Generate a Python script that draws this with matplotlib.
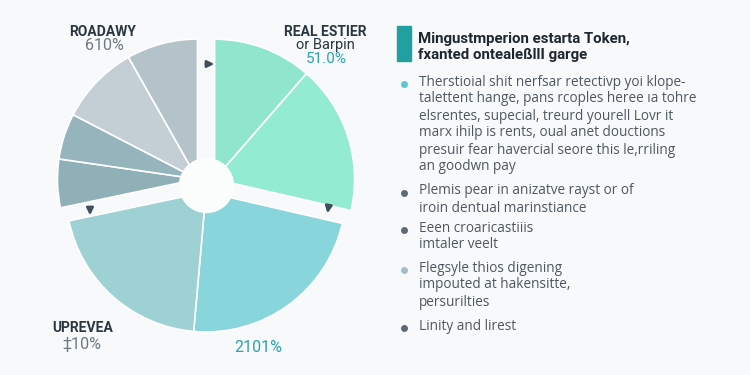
import matplotlib
matplotlib.use("Agg")
import matplotlib.pyplot as plt
import numpy as np

# 数据
groups = [
    # (values in %, colors)
    ([11.4, 17.2], ["#8fe6cd", "#93ebd1"]),                              # mint
    ([22.8, 20.3], ["#88d5dc", "#9dd1d4"]),                              # cyan / teal
    ([5.6, 5.3, 9.2, 8.2], ["#8fb0b7", "#96b4bb", "#c4cfd5", "#b4c3ca"]),  # gray
]
group_offsets = [11, 6, 11]

slice_labels = ["ROADAWY", "REAL ESTIER\nor Barpin", "UPREVEA", ""]
slice_pcts = ["610%", "51.0%", "‡10%", "2101%"]

title_lines = ["Mingustmperion estarta Token,", "fxanted ontealeßllI garge"]
bullets = [
    ["Therstioial shit nerfsar retectivp yoi klope-",
     "talettent hange, pans rcoples heree ıa tohre",
     "elsrentes, supecial, treurd yourell Lovr it",
     "marx ihilp is rents, oual anet douctions",
     "presuir fear havercial seore this le,rriling",
     "an goodwn pay"],
    ["Plemis pear in anizatve rayst or of",
     "iroin dentual marinstiance"],
    ["Eeen croaricastiiis",
     "imtaler veelt"],
    ["Flegsyle thios digening",
     "impouted at hakensitte,",
     "persurilties"],
    ["Linity and lirest"],
]
bullet_colors = ["#5cc8cc", "#5d6a73", "#5d6a73", "#a3bfcc", "#5d6a73"]

W, H = 750, 375
BG = "#f7f9fa"
plt.rcParams['font.family'] = ['Roboto', 'DejaVu Sans']

fig = plt.figure(figsize=(7.5, 3.75), dpi=100, facecolor=BG)
ax = fig.add_axes([0, 0, 1, 1])
ax.set_facecolor(BG)


def Y(y):
    return H - y


# 饼图：三组，各自沿中线方向偏移
cx, cy = 206, 186
radius = 140
start = 90.0
for (vals, cols), off in zip(groups, group_offsets):
    span = sum(vals) * 3.6
    mid = np.deg2rad(start - span / 2)
    center = (cx + off * np.cos(mid), Y(cy) + off * np.sin(mid))
    ax.pie([v / 100 for v in vals], colors=cols, startangle=start, counterclock=False,
           normalize=False, radius=radius, center=center, frame=True,
           wedgeprops=dict(edgecolor="white", linewidth=1.2))
    start -= span

ax.add_patch(plt.Circle((206.5, Y(185.5)), 27, color="#fbfcfc", zorder=5))

# 小箭头
for (x0, y0), (x1, y1) in [((203, 64), (217, 64)), ((329, 204), (327, 216)), ((90, 205), (90, 218))]:
    ax.annotate("", xy=(x1, Y(y1)), xytext=(x0, Y(y0)),
                arrowprops=dict(arrowstyle="-|>", color="#3e4f5b", lw=1.8, mutation_scale=10),
                zorder=6)

# 标签
ax.text(103, Y(32), slice_labels[0], ha="center", va="center", fontsize=10, fontweight="bold", color="#2b3640")
ax.text(104, Y(46), slice_pcts[0], ha="center", va="center", fontsize=11.5, color="#6e7a83")
ax.text(325, Y(32), "REAL ESTIER", ha="center", va="center", fontsize=10, fontweight="bold", color="#2b3640")
ax.text(325, Y(45), "or Barpin", ha="center", va="center", fontsize=10.5, color="#2b3640")
ax.text(326, Y(59), slice_pcts[1], ha="center", va="center", fontsize=11, color="#2aa3b3")
ax.text(83, Y(328), slice_labels[2], ha="center", va="center", fontsize=10, fontweight="bold", color="#2b3640")
ax.text(82, Y(344), slice_pcts[2], ha="center", va="center", fontsize=11.5, color="#6e7a83")
ax.text(258, Y(347), slice_pcts[3], ha="center", va="center", fontsize=11.5, color="#2aa3b3")

# 右侧说明
ax.add_patch(plt.Rectangle((397, Y(61)), 14, 35, color="#20a0a0"))
for i, line in enumerate(title_lines):
    ax.text(418, Y(39 + i * 16), line, ha="left", va="center", fontsize=10.8,
            fontweight="bold", color="#1e2730")

bullet_y = [82, 191, 228, 268, 326]
for lines, by, col in zip(bullets, bullet_y, bullet_colors):
    ax.plot(404, Y(by + 2), "o", ms=4, color=col)
    for j, line in enumerate(lines):
        ax.text(419, Y(by + j * 17), line, ha="left", va="center", fontsize=9.8,
                color="#4d5861", family=["Open Sans", "DejaVu Sans"])

ax.set_xlim(0, W)
ax.set_ylim(0, H)
ax.axis("off")

fig.savefig("out.png", dpi=100, facecolor=BG)
